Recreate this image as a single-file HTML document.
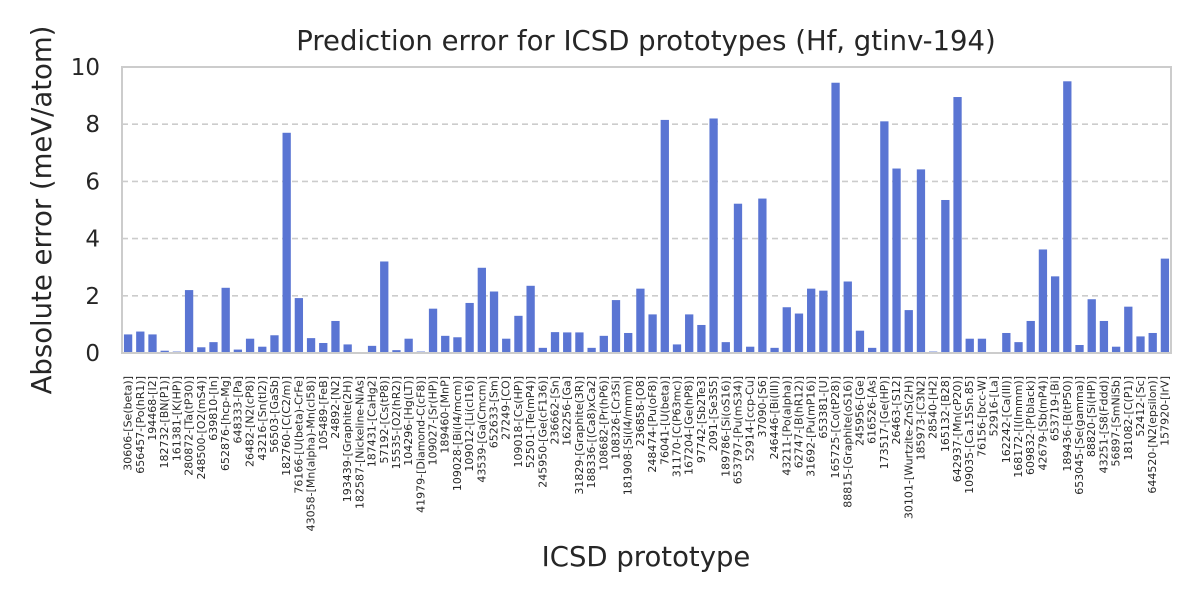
<!DOCTYPE html>
<html><head><meta charset="utf-8"><style>
body{margin:0;background:#fff}
svg{display:block;font-family:"DejaVu Sans","Liberation Sans",sans-serif}
</style></head><body>
<svg id="chart" width="1200" height="600" viewBox="0 0 1200 600" xmlns="http://www.w3.org/2000/svg">
<rect width="1200" height="600" fill="#fff"/>
<text x="646" y="50" font-size="27.5" text-anchor="middle" fill="#262626">Prediction error for ICSD prototypes (Hf, gtinv-194)</text>
<text x="646" y="566" font-size="27.5" text-anchor="middle" fill="#262626">ICSD prototype</text>
<text transform="translate(51,210) rotate(-90)" font-size="27.5" text-anchor="middle" fill="#262626">Absolute error (meV/atom)</text>
<g id="grid"></g><g id="bars"></g><g id="yticks"></g><g id="xticks"></g>
<rect x="122" y="67" width="1049" height="286" fill="none" stroke="#cccccc" stroke-width="2"/>
</svg>
<script>
const categories = ["30606-[Se(beta)]","656457-[Po(hR1)]","194468-[I2]","182732-[BN(P1)]","161381-[K(HP)]","280872-[Ta(tP30)]","248500-[O2(mS4)]","639810-[In]","652876-[hcp-Mg]","648333-[Pa]","26482-[N2(cP8)]","43216-[Sn(tI2)]","56503-[GaSb]","182760-[C(C2/m)]","76166-[U(beta)-CrFe]","43058-[Mn(alpha)-Mn(cI58)]","105489-[FeB]","24892-[N2]","193439-[Graphite(2H)]","182587-[Nickeline-NiAs]","187431-[CaHg2]","57192-[Cs(tP8)]","15535-[O2(hR2)]","104296-[Hg(LT)]","41979-[Diamond-C(cF8)]","109027-[Sr(HP)]","189460-[MnP]","109028-[Bi(I4/mcm)]","109012-[Li(cI16)]","43539-[Ga(Cmcm)]","652633-[Sm]","27249-[CO]","109018-[Cs(HP)]","52501-[Te(mP4)]","245950-[Ge(cF136)]","236662-[Sn]","162256-[Ga]","31829-[Graphite(3R)]","188336-[(Ca8)xCa2]","108682-[Pr(hP6)]","108326-[Cr3Si]","181908-[Si(I4/mmm)]","236858-[O8]","248474-[Pu(oF8)]","76041-[U(beta)]","31170-[C(P63mc)]","167204-[Ge(hP8)]","97742-[Sb2Te3]","2091-[Se3S5]","189786-[Si(oS16)]","653797-[Pu(mS34)]","52914-[ccp-Cu]","37090-[S6]","246446-[Bi(III)]","43211-[Po(alpha)]","62747-[B(hR12)]","31692-[Pu(mP16)]","653381-[U]","165725-[Co(tP28)]","88815-[Graphite(oS16)]","245956-[Ge]","616526-[As]","173517-[Ge(HP)]","26463-[S12]","30101-[Wurtzite-ZnS(2H)]","185973-[C3N2]","28540-[H2]","165132-[B28]","642937-[Mn(cP20)]","109035-[Ca.15Sn.85]","76156-[bcc-W]","52916-[La]","162242-[Ca(III)]","168172-[I(Immm)]","609832-[P(black)]","42679-[Sb(mP4)]","653719-[Bi]","189436-[B(tP50)]","653045-[Se(gamma)]","88820-[Si(HP)]","43251-[S8(Fddd)]","56897-[SmNiSb]","181082-[C(P1)]","52412-[Sc]","644520-[N2(epsilon)]","157920-[IrV]"];
const errors = [0.65,0.75,0.65,0.08,0.05,2.2,0.2,0.38,2.28,0.12,0.5,0.22,0.62,7.7,1.92,0.52,0.35,1.12,0.3,0.03,0.25,3.2,0.1,0.5,0.05,1.55,0.6,0.55,1.75,2.98,2.15,0.5,1.3,2.35,0.18,0.73,0.72,0.72,0.18,0.6,1.85,0.7,2.25,1.35,8.15,0.3,1.35,0.98,8.2,0.38,5.22,0.22,5.4,0.18,1.6,1.38,2.25,2.18,9.45,2.5,0.78,0.18,8.1,6.45,1.5,6.42,0.05,5.35,8.95,0.5,0.5,0.02,0.7,0.38,1.12,3.62,2.68,9.5,0.28,1.88,1.12,0.22,1.62,0.58,0.7,3.3];
const yTicks = [0,2,4,6,8,10];

const NS="http://www.w3.org/2000/svg";
const X0=122,X1=1171,Y0=353,Y1=67,YMAX=10;
const step=(X1-X0)/categories.length;
const xc=i=>X0+step*(i+0.5);
const y=v=>Y0-(v/YMAX)*(Y0-Y1);
function mk(t,a){const e=document.createElementNS(NS,t);for(const k in a)e.setAttribute(k,a[k]);return e;}
const grid=document.getElementById('grid'),yt=document.getElementById('yticks'),bars=document.getElementById('bars'),xt=document.getElementById('xticks');
yTicks.forEach(v=>{
  if(v>0&&v<YMAX){const l=mk('line',{x1:X0,x2:X1,y1:y(v),y2:y(v),stroke:'#cccccc','stroke-width':1.6,'stroke-dasharray':'6,4'});
  
  
  grid.appendChild(l);}
  const t=mk('text',{x:100,y:y(v)+8,'font-size':23,'text-anchor':'end',fill:'#262626'});
  
  
  t.textContent=v;yt.appendChild(t);
});
categories.forEach((c,i)=>{
  const bw=step*0.68,v=errors[i];
  const r=mk('rect',{x:xc(i)-bw/2,y:y(v),width:bw,height:Y0-y(v),fill:'#5a75d3'});
  
  
  bars.appendChild(r);
  const t=mk('text',{transform:`translate(${xc(i)+3.5},376) rotate(-90)`,'font-size':11,'text-anchor':'end',fill:'#262626'});
  
  
  t.textContent=c;xt.appendChild(t);
});
</script>
</body></html>
